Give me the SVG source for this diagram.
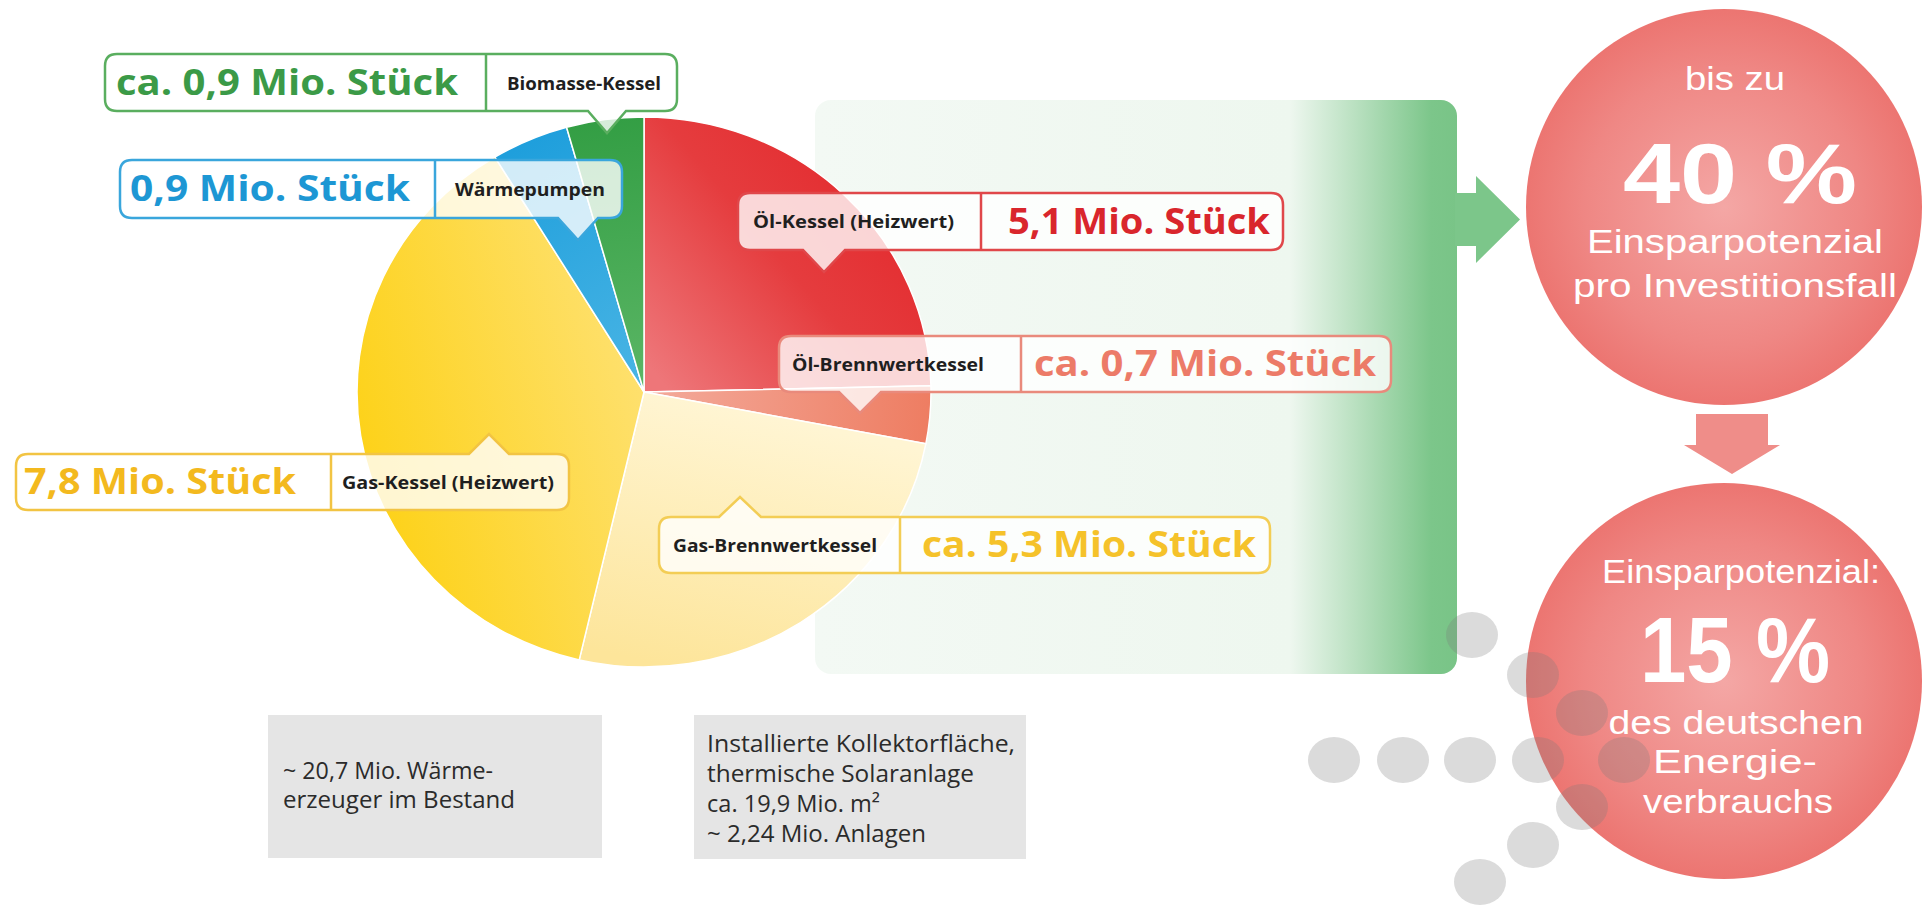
<svg xmlns="http://www.w3.org/2000/svg" width="1932" height="905" viewBox="0 0 1932 905">
<defs>
<style>
text{font-family:"Open Sans","Liberation Sans",sans-serif}
.big{font-weight:700;font-size:36px}
.lbl{font-weight:700;font-size:18px;fill:#1f1f1f}
.note{font-weight:400;font-size:23px;fill:#2b2b2b}
.ct{font-family:"Liberation Sans","Open Sans",sans-serif;font-weight:400;font-size:33px;fill:#fff}
.cb{font-family:"Liberation Sans","Open Sans",sans-serif;font-weight:700;fill:#fff}
.co{fill:#fff;fill-opacity:0.8;stroke-width:2.5}
.dv{fill:none;stroke-width:2.5}
.sl{stroke:#fff;stroke-width:1.5;stroke-linejoin:round}
.dot{fill:#7a7a7a;fill-opacity:0.27}
</style>
<linearGradient id="gPanel" x1="815" y1="0" x2="1457" y2="0" gradientUnits="userSpaceOnUse">
<stop offset="0" stop-color="#f3f9f4"/>
<stop offset="0.74" stop-color="#eef7ef"/>
<stop offset="0.96" stop-color="#7cc68a"/>
<stop offset="1" stop-color="#79c487"/>
</linearGradient>
<linearGradient id="gRed" x1="920" y1="160" x2="660" y2="380" gradientUnits="userSpaceOnUse">
<stop offset="0" stop-color="#e3262a"/>
<stop offset="0.5" stop-color="#e53c3e"/>
<stop offset="1" stop-color="#ee7679"/>
</linearGradient>
<linearGradient id="gOrange" x1="930" y1="420" x2="660" y2="395" gradientUnits="userSpaceOnUse">
<stop offset="0" stop-color="#ee7d62"/>
<stop offset="1" stop-color="#f3a898"/>
</linearGradient>
<linearGradient id="gLight" x1="700" y1="400" x2="640" y2="660" gradientUnits="userSpaceOnUse">
<stop offset="0" stop-color="#fff5d3"/>
<stop offset="1" stop-color="#fde59a"/>
</linearGradient>
<linearGradient id="gYellow" x1="370" y1="470" x2="640" y2="390" gradientUnits="userSpaceOnUse">
<stop offset="0" stop-color="#fdd21a"/>
<stop offset="1" stop-color="#fee06c"/>
</linearGradient>
<linearGradient id="gBlue" x1="500" y1="160" x2="640" y2="380" gradientUnits="userSpaceOnUse">
<stop offset="0" stop-color="#1f9fdc"/>
<stop offset="1" stop-color="#48b4e4"/>
</linearGradient>
<linearGradient id="gGreen" x1="600" y1="120" x2="640" y2="390" gradientUnits="userSpaceOnUse">
<stop offset="0" stop-color="#339e44"/>
<stop offset="1" stop-color="#5bb665"/>
</linearGradient>
<radialGradient id="gCircle" cx="0.5" cy="0.5" r="0.5">
<stop offset="0" stop-color="#f4a7a5"/>
<stop offset="0.7" stop-color="#ef8784"/>
<stop offset="1" stop-color="#ec7571"/>
</radialGradient>
</defs>

<g id="panel">
<rect x="815" y="100" width="642" height="574" rx="16" fill="url(#gPanel)"/>
</g>

<g id="pie">
<path class="sl" fill="url(#gRed)" d="M644,392 L644,117 A287,275 0 0 1 930.93,385.74 Z"/>
<path class="sl" fill="url(#gOrange)" d="M644,392 L930.93,385.74 A287,275 0 0 1 925.85,443.86 Z"/>
<path class="sl" fill="url(#gLight)" d="M644,392 L925.85,443.86 A287,275 0 0 1 579.23,659.9 Z"/>
<path class="sl" fill="url(#gYellow)" d="M644,392 L579.23,659.9 A287,275 0 0 1 494.86,157.05 Z"/>
<path class="sl" fill="url(#gBlue)" d="M644,392 L494.86,157.05 A287,275 0 0 1 566.57,127.2 Z"/>
<path class="sl" fill="url(#gGreen)" d="M644,392 L566.57,127.2 A287,275 0 0 1 644,117 Z"/>
</g>

<g id="connectors">
<path id="arrow-right" fill="#7cc68a" d="M1455,193 H1476 V176 L1520,219.5 L1476,263 V246 H1455 Z"/>
<path id="arrow-down" fill="#ef8d89" d="M1696,414 H1768 V445 H1780 L1732,474 L1684,445 H1696 Z"/>
</g>

<g id="callout-biomasse">
<path class="co" stroke="#5aae5f" d="M117,54 H665 Q677,54 677,66 V99 Q677,111 665,111 H626 L607,133 L588,111 H117 Q105,111 105,99 V66 Q105,54 117,54 Z"/>
<path class="dv" stroke="#5aae5f" d="M486,54 V111"/>
<text class="big" x="116" y="95" fill="#3b9a47" textLength="342" lengthAdjust="spacingAndGlyphs">ca. 0,9 Mio. Stück</text>
<text class="lbl" x="507" y="90" textLength="154" lengthAdjust="spacingAndGlyphs">Biomasse-Kessel</text>
</g>

<g id="callout-waermepumpen">
<path class="co" stroke="#3aa6dc" d="M132,160 H610 Q622,160 622,172 V206 Q622,218 610,218 H598 L578,240 L558,218 H132 Q120,218 120,206 V172 Q120,160 132,160 Z"/>
<path class="dv" stroke="#3aa6dc" d="M435,160 V218"/>
<text class="big" x="130" y="201" fill="#1d97d4" textLength="280" lengthAdjust="spacingAndGlyphs">0,9 Mio. Stück</text>
<text class="lbl" x="455" y="196" textLength="150" lengthAdjust="spacingAndGlyphs">Wärmepumpen</text>
</g>

<g id="callout-oel-kessel">
<path class="co" stroke="#e0474a" d="M750,193 H1271 Q1283,193 1283,205 V238 Q1283,250 1271,250 H845 L824,272 L803,250 H750 Q738,250 738,238 V205 Q738,193 750,193 Z"/>
<path class="dv" stroke="#e0474a" d="M981,193 V250"/>
<text class="lbl" x="753" y="228" textLength="201" lengthAdjust="spacingAndGlyphs">Öl-Kessel (Heizwert)</text>
<text class="big" x="1008" y="234" fill="#d9262c" textLength="262" lengthAdjust="spacingAndGlyphs">5,1 Mio. Stück</text>
</g>

<g id="callout-oel-brennwert">
<path class="co" stroke="#e98a7c" d="M791,336 H1379 Q1391,336 1391,348 V380 Q1391,392 1379,392 H881 L860,413 L839,392 H791 Q779,392 779,380 V348 Q779,336 791,336 Z"/>
<path class="dv" stroke="#e98a7c" d="M1021,336 V392"/>
<text class="lbl" x="792" y="371" textLength="192" lengthAdjust="spacingAndGlyphs">Öl-Brennwertkessel</text>
<text class="big" x="1034" y="376" fill="#ec7b68" textLength="342" lengthAdjust="spacingAndGlyphs">ca. 0,7 Mio. Stück</text>
</g>

<g id="callout-gas-kessel">
<path class="co" stroke="#f2c443" d="M28,454 H469 L489,434 L509,454 H557 Q569,454 569,466 V498 Q569,510 557,510 H28 Q16,510 16,498 V466 Q16,454 28,454 Z"/>
<path class="dv" stroke="#f2c443" d="M331,454 V510"/>
<text class="big" x="24" y="494" fill="#f3b91e" textLength="272" lengthAdjust="spacingAndGlyphs">7,8 Mio. Stück</text>
<text class="lbl" x="342" y="489" textLength="212" lengthAdjust="spacingAndGlyphs">Gas-Kessel (Heizwert)</text>
</g>

<g id="callout-gas-brennwert">
<path class="co" stroke="#f3cd55" d="M671,517 H719 L740,497 L761,517 H1258 Q1270,517 1270,529 V561 Q1270,573 1258,573 H671 Q659,573 659,561 V529 Q659,517 671,517 Z"/>
<path class="dv" stroke="#f3cd55" d="M900,517 V573"/>
<text class="lbl" x="673" y="552" textLength="204" lengthAdjust="spacingAndGlyphs">Gas-Brennwertkessel</text>
<text class="big" x="922" y="557" fill="#f5c22a" textLength="334" lengthAdjust="spacingAndGlyphs">ca. 5,3 Mio. Stück</text>
</g>

<g id="note-bestand">
<rect x="268" y="715" width="334" height="143" fill="#e5e5e5"/>
<text class="note" x="283" y="779" textLength="210" lengthAdjust="spacingAndGlyphs">~ 20,7 Mio. Wärme-</text>
<text class="note" x="283" y="808" textLength="232" lengthAdjust="spacingAndGlyphs">erzeuger im Bestand</text>
</g>

<g id="note-solar">
<rect x="694" y="715" width="332" height="144" fill="#e5e5e5"/>
<text class="note" x="707" y="752" textLength="308" lengthAdjust="spacingAndGlyphs">Installierte Kollektorfläche,</text>
<text class="note" x="707" y="782" textLength="267" lengthAdjust="spacingAndGlyphs">thermische Solaranlage</text>
<text class="note" x="707" y="812" textLength="173" lengthAdjust="spacingAndGlyphs">ca. 19,9 Mio. m²</text>
<text class="note" x="707" y="842" textLength="219" lengthAdjust="spacingAndGlyphs">~ 2,24 Mio. Anlagen</text>
</g>

<g id="circle-40">
<circle cx="1724" cy="207" r="198" fill="url(#gCircle)"/>
<text class="ct" x="1735" y="90" text-anchor="middle" textLength="100" lengthAdjust="spacingAndGlyphs">bis zu</text>
<text class="cb" x="1740" y="203" font-size="86" text-anchor="middle" textLength="234" lengthAdjust="spacingAndGlyphs">40 %</text>
<text class="ct" x="1735" y="253" text-anchor="middle" textLength="296" lengthAdjust="spacingAndGlyphs">Einsparpotenzial</text>
<text class="ct" x="1735" y="297" text-anchor="middle" textLength="324" lengthAdjust="spacingAndGlyphs">pro Investitionsfall</text>
</g>

<g id="circle-15">
<circle cx="1724" cy="681" r="198" fill="url(#gCircle)"/>
<text class="ct" x="1741" y="583" text-anchor="middle" textLength="278" lengthAdjust="spacingAndGlyphs">Einsparpotenzial:</text>
<text class="cb" x="1735" y="682" font-size="92" text-anchor="middle" textLength="190" lengthAdjust="spacingAndGlyphs">15 %</text>
<text class="ct" x="1736" y="734" text-anchor="middle" textLength="255" lengthAdjust="spacingAndGlyphs">des deutschen</text>
<text class="ct" x="1735" y="773" text-anchor="middle" textLength="164" lengthAdjust="spacingAndGlyphs">Energie-</text>
<text class="ct" x="1738" y="813" text-anchor="middle" textLength="190" lengthAdjust="spacingAndGlyphs">verbrauchs</text>
</g>

<g id="dots">
<ellipse class="dot" cx="1472" cy="635" rx="26" ry="23"/>
<ellipse class="dot" cx="1533" cy="675" rx="26" ry="23"/>
<ellipse class="dot" cx="1582" cy="713" rx="26" ry="23"/>
<ellipse class="dot" cx="1624" cy="760" rx="26" ry="23"/>
<ellipse class="dot" cx="1582" cy="807" rx="26" ry="23"/>
<ellipse class="dot" cx="1533" cy="845" rx="26" ry="23"/>
<ellipse class="dot" cx="1480" cy="882" rx="26" ry="23"/>
<ellipse class="dot" cx="1334" cy="760" rx="26" ry="23"/>
<ellipse class="dot" cx="1403" cy="760" rx="26" ry="23"/>
<ellipse class="dot" cx="1470" cy="760" rx="26" ry="23"/>
<ellipse class="dot" cx="1538" cy="760" rx="26" ry="23"/>
</g>
</svg>
